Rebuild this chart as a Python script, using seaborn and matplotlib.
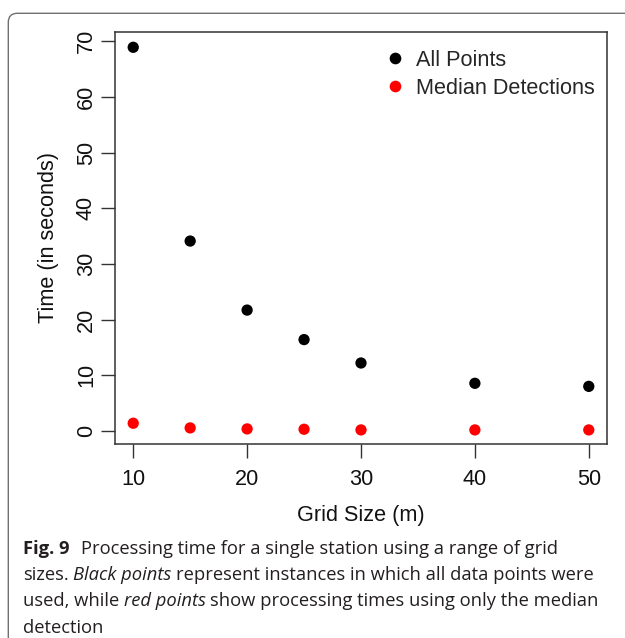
import numpy as np
import pandas as pd
import matplotlib
matplotlib.use("Agg")
import matplotlib.pyplot as plt
import seaborn as sns
from matplotlib.patches import FancyBboxPatch
from matplotlib.lines import Line2D
from matplotlib.transforms import IdentityTransform

# ---------------- data ----------------
grid_size = [10, 15, 20, 25, 30, 40, 50]
time_all_points = [68.9, 34.1, 21.7, 16.4, 12.2, 8.55, 8.0]
time_median_detections = [1.38, 0.54, 0.36, 0.30, 0.18, 0.18, 0.18]
series_labels = ["All Points", "Median Detections"]
series_colors = ["black", "red"]
x_ticks = [10, 20, 30, 40, 50]
y_ticks = [0, 10, 20, 30, 40, 50, 60, 70]
x_label = "Grid Size (m)"
y_label = "Time (in seconds)"
caption_lines = [
    [("Fig. 9", "bold"), ("Processing time for a single station using a range of grid", "normal")],
    [("sizes.", "normal"), ("Black points", "italic"),
     ("represent instances in which all data points were", "normal")],
    [("used, while", "normal"), ("red points", "italic"),
     ("show processing times using only the median", "normal")],
    [("detection", "normal")],
]

df = pd.DataFrame({
    "grid": grid_size * 2,
    "time": time_all_points + time_median_detections,
    "series": [series_labels[0]] * len(grid_size) + [series_labels[1]] * len(grid_size),
})

# ---------------- figure ----------------
W, H, DPI = 625, 638, 100
FS = 15.6
sns.set_theme(style="white")
plt.rcParams["font.family"] = ["Liberation Sans", "DejaVu Sans"]
fig = plt.figure(figsize=(W / DPI, H / DPI), dpi=DPI)
fig.patch.set_facecolor("white")

# outer rounded frame of the article figure box
frame = FancyBboxPatch((8.3, -30), 800, (H - 13.3) + 30,
                       boxstyle="round,pad=0,rounding_size=9",
                       transform=IdentityTransform(), fill=False,
                       edgecolor="#707070", linewidth=1.0)
fig.add_artist(frame)

ax_left, ax_right, ax_top, ax_bottom = 115, 607, 31.7, 444
ax = fig.add_axes([ax_left / W, 1 - ax_bottom / H,
                   (ax_right - ax_left) / W, (ax_bottom - ax_top) / H])

palette = dict(zip(series_labels, series_colors))
sns.scatterplot(data=df, x="grid", y="time", hue="series", palette=palette,
                s=66, edgecolor="none", linewidth=0, ax=ax, legend=False,
                zorder=3)

ax.set_xlim(8.4, 51.6)
ax.set_ylim(-2.35, 71.7)
ax.set_xticks(x_ticks)
ax.set_yticks(y_ticks)
ax.set_xticklabels([str(v) for v in x_ticks])
ax.set_yticklabels([str(v) for v in y_ticks])
for sp in ax.spines.values():
    sp.set_visible(True)
    sp.set_color("#333333")
    sp.set_linewidth(1.1)
ax.tick_params(axis="both", which="major", direction="out", length=10,
               width=1.0, color="#333333", labelsize=FS, labelcolor="#111111",
               bottom=True, left=True)
ax.tick_params(axis="x", pad=8.0)
ax.tick_params(axis="y", pad=3.0)
plt.setp(ax.get_yticklabels(), rotation=90, va="center")
ax.set_xlabel(x_label, fontsize=FS, color="#111111", labelpad=11)
ax.set_ylabel(y_label, fontsize=FS, color="#111111", labelpad=12)
ax.grid(False)

handles = [Line2D([0], [0], marker="o", linestyle="none", markersize=8.4,
                  markerfacecolor=c, markeredgecolor="none", label=l)
           for l, c in zip(series_labels, series_colors)]
ax.legend(handles=handles, loc="upper left", frameon=False, fontsize=FS,
          handlelength=0.8, handletextpad=0.6, labelspacing=0.32,
          borderpad=0, borderaxespad=0,
          bbox_to_anchor=(386.0 / W, 1 - 50 / H), bbox_transform=fig.transFigure)

# ---------------- caption ----------------
fig.canvas.draw()
renderer = fig.canvas.get_renderer()
cap_family = ["Open Sans", "DejaVu Sans"]


def seg_props(style):
    return dict(fontweight="bold" if style == "bold" else "normal",
                fontstyle="italic" if style == "italic" else "normal")


def measure(text, size, style):
    t = fig.text(0, 0, text, fontsize=size, family=cap_family, **seg_props(style))
    w = t.get_window_extent(renderer=renderer).width
    t.remove()
    return w


ref_size = 10.0
space_ref = measure("a a", ref_size, "normal") - measure("aa", ref_size, "normal")
line1_ref = sum(measure(s, ref_size, st) for s, st in caption_lines[0]) + 2.4 * space_ref
cap_size = ref_size * (559 - 22.7) / line1_ref
space_w = space_ref * cap_size / ref_size

baselines = [553.5, 580, 606.5, 633]
for segs, yb in zip(caption_lines, baselines):
    x = 22.7
    for i, (s, st) in enumerate(segs):
        t = fig.text(x / W, 1 - yb / H, s, fontsize=cap_size, family=cap_family,
                     color="#231f20", va="baseline", ha="left", **seg_props(st))
        w = t.get_window_extent(renderer=renderer).width
        gap = 2.4 * space_w if st == "bold" else space_w
        x += w + gap

fig.savefig("out.png", dpi=DPI, facecolor="white")
